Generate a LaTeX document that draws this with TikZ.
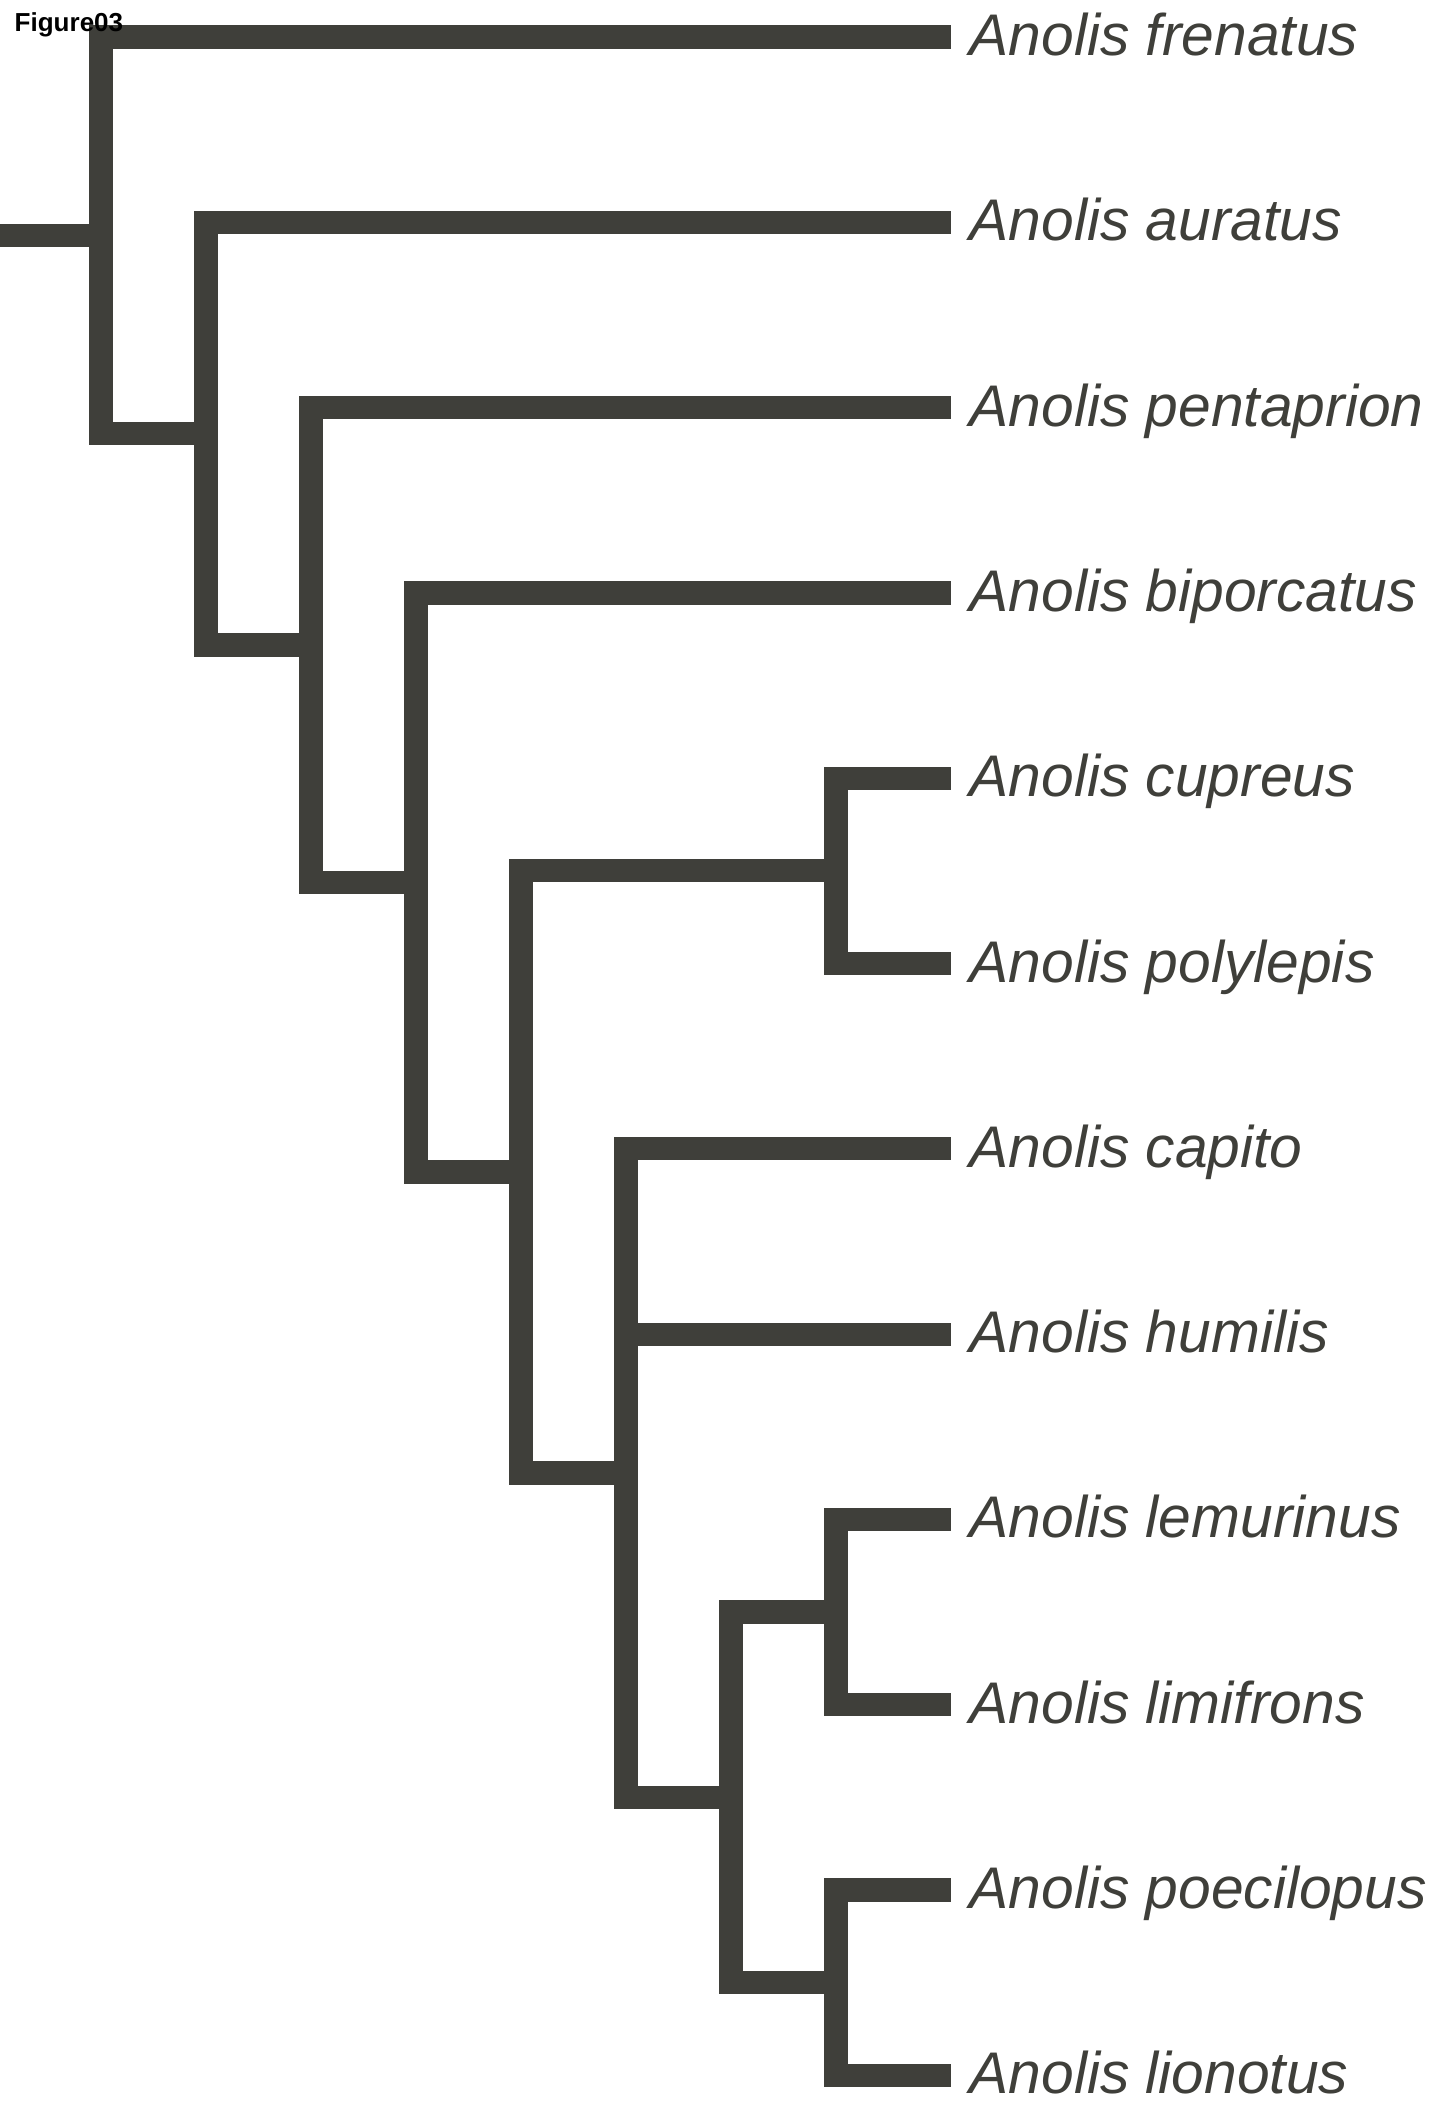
\documentclass[tikz,border=0pt]{standalone}
\usepackage{fontspec}
\usepackage{xcolor}
\usepackage{tikz}
\newfontfamily\labfont{Liberation Sans}
\definecolor{bark}{HTML}{3F3F3A}
\tikzset{
  branch/.style={draw=bark, line width=6.6pt, line cap=butt, line join=miter},
  lab/.style={anchor=west, inner xsep=0.18cm, inner ysep=0pt, text=bark,
    font=\labfont\itshape\fontsize{16.7}{19}\selectfont,
    text height=0.49cm, text depth=0.12cm},
  head/.style={anchor=base west, inner sep=0pt, text=black,
    font=\labfont\bfseries\fontsize{7.4}{9}\selectfont},
}

\begin{document}
\begin{tikzpicture}[x=0.01cm,y=-0.01cm]
  \useasboundingbox (0,0) rectangle (1437,2101);
  % tips
  \node[lab] (frenatus)   at (951,37)     {Anolis frenatus};
  \node[lab] (auratus)    at (951,222.3)  {Anolis auratus};
  \node[lab] (pentaprion) at (951,407.6)  {Anolis pentaprion};
  \node[lab] (biporcatus) at (951,592.9)  {Anolis biporcatus};
  \node[lab] (cupreus)    at (951,778.2)  {Anolis cupreus};
  \node[lab] (polylepis)  at (951,963.5)  {Anolis polylepis};
  \node[lab] (capito)     at (951,1148.8) {Anolis capito};
  \node[lab] (humilis)    at (951,1334.1) {Anolis humilis};
  \node[lab] (lemurinus)  at (951,1519.4) {Anolis lemurinus};
  \node[lab] (limifrons)  at (951,1704.7) {Anolis limifrons};
  \node[lab] (poecilopus) at (951,1890.0) {Anolis poecilopus};
  \node[lab] (lionotus)   at (951,2075.3) {Anolis lionotus};
  % internal nodes
  \coordinate (root) at (0,235.33);
  \coordinate (n1) at (101,235.33);
  \coordinate (n2) at (206,433.66);
  \coordinate (n3) at (311,645.02);
  \coordinate (n4) at (416,882.43);
  \coordinate (n5) at (521,1171.96);
  \coordinate (n6) at (836,870.85);
  \coordinate (n7) at (626,1473.08);
  \coordinate (n8) at (731,1797.35);
  \coordinate (n9) at (836,1612.05);
  \coordinate (n10) at (836,1982.65);
  % branches
  \draw[branch] (root) -- (n1);
  \draw[branch] (n1) |- (frenatus.west);
  \draw[branch] (n1) |- (n2);
  \draw[branch] (n2) |- (auratus.west);
  \draw[branch] (n2) |- (n3);
  \draw[branch] (n3) |- (pentaprion.west);
  \draw[branch] (n3) |- (n4);
  \draw[branch] (n4) |- (biporcatus.west);
  \draw[branch] (n4) |- (n5);
  \draw[branch] (n5) |- (n6);
  \draw[branch] (n5) |- (n7);
  \draw[branch] (n6) |- (cupreus.west);
  \draw[branch] (n6) |- (polylepis.west);
  \draw[branch] (n7) |- (capito.west);
  \draw[branch] (n7) |- (humilis.west);
  \draw[branch] (n7) |- (n8);
  \draw[branch] (n8) |- (n9);
  \draw[branch] (n8) |- (n10);
  \draw[branch] (n9) |- (lemurinus.west);
  \draw[branch] (n9) |- (limifrons.west);
  \draw[branch] (n10) |- (poecilopus.west);
  \draw[branch] (n10) |- (lionotus.west);
  \node[head] (title) at (14,32) {Figure03};
\end{tikzpicture}
\end{document}
